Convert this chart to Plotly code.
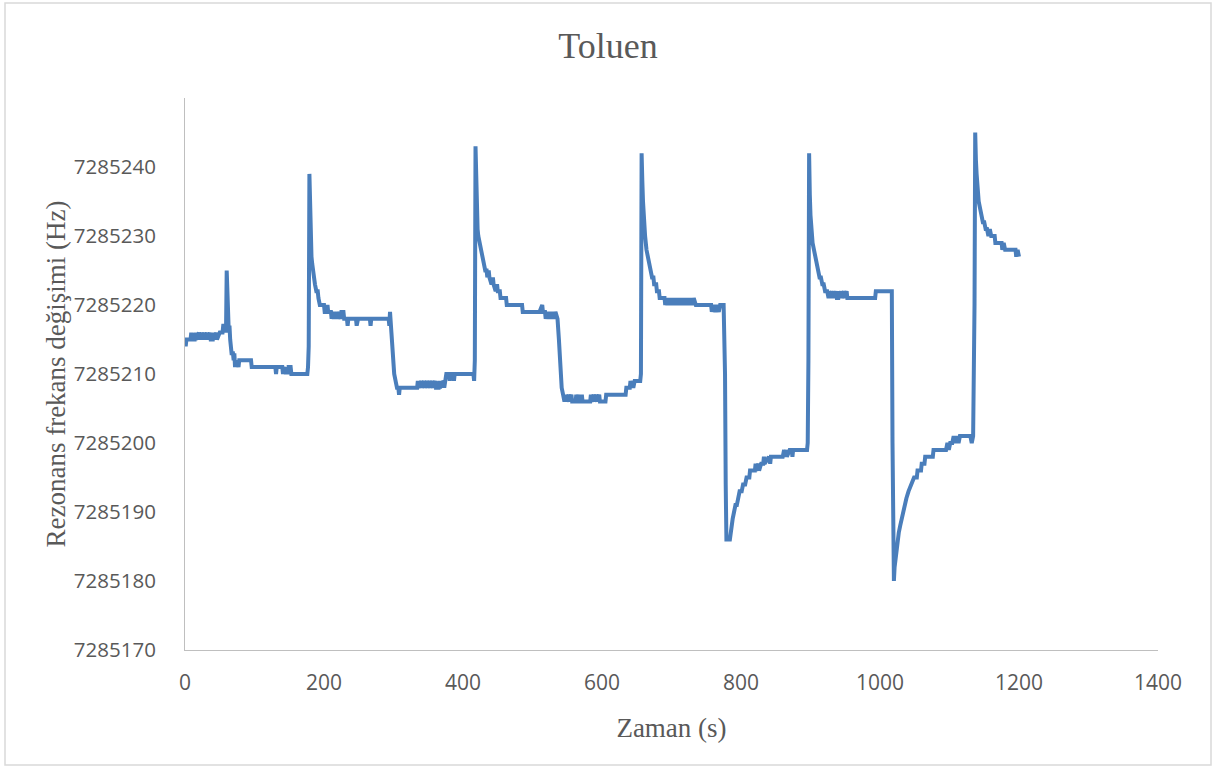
import plotly.graph_objects as go

# Zaman (s)
time_s = [
    0, 1, 2, 8, 9, 10, 14, 15, 16, 20, 21, 24, 25, 28, 29, 32, 33, 36, 37, 40, 41, 42, 45, 46, 50, 54, 55, 58, 59,
    60, 61, 62, 63, 64, 65, 66, 67, 69, 70, 71, 72, 73, 74, 75, 77, 78, 95, 96, 130, 131, 132, 140, 141, 142, 145,
    146, 148, 149, 152, 153, 176, 177, 178, 179, 180, 181, 182, 183, 185, 187, 189, 191, 192, 194, 200, 201, 204,
    205, 206, 210, 211, 212, 214, 215, 217, 218, 220, 221, 224, 225, 228, 229, 233, 234, 235, 246, 247, 249, 266,
    267, 268, 293, 294, 295, 297, 299, 301, 303, 305, 307, 308, 309, 334, 335, 336, 340, 341, 344, 345, 348, 349,
    352, 353, 356, 357, 360, 361, 365, 366, 367, 372, 373, 376, 380, 381, 382, 386, 387, 388, 400, 410, 415, 416,
    417, 418, 419, 420, 421, 422, 424, 426, 428, 430, 432, 434, 435, 437, 438, 441, 443, 444, 447, 449, 450, 453,
    454, 460, 462, 463, 485, 486, 510, 514, 515, 518, 519, 521, 523, 525, 527, 529, 531, 533, 535, 536, 538, 540,
    542, 544, 546, 548, 549, 552, 553, 556, 557, 562, 563, 564, 566, 567, 570, 571, 572, 583, 584, 585, 588, 589,
    592, 593, 596, 597, 605, 606, 634, 635, 640, 641, 642, 644, 645, 647, 655, 656, 657, 658, 659, 660, 662, 664,
    666, 668, 670, 672, 674, 675, 678, 679, 682, 683, 686, 690, 691, 692, 694, 696, 698, 700, 702, 704, 706, 708,
    710, 712, 714, 716, 718, 720, 722, 724, 726, 728, 730, 732, 735, 757, 758, 760, 763, 765, 768, 770, 775, 777,
    778, 779, 784, 786, 788, 790, 792, 794, 796, 798, 801, 803, 806, 808, 812, 813, 820, 821, 822, 825, 826, 829,
    832, 833, 834, 840, 842, 843, 850, 860, 862, 863, 865, 866, 870, 873, 874, 875, 895, 896, 897, 898, 899, 900,
    901, 903, 905, 907, 909, 911, 913, 915, 917, 919, 921, 924, 926, 927, 929, 931, 932, 934, 935, 937, 938, 940,
    941, 942, 944, 945, 948, 949, 952, 953, 958, 960, 990, 993, 994, 1017, 1018, 1019, 1020, 1021, 1023, 1025,
    1027, 1029, 1031, 1033, 1035, 1038, 1041, 1045, 1049, 1053, 1054, 1059, 1060, 1064, 1065, 1071, 1076, 1077,
    1095, 1097, 1099, 1101, 1104, 1106, 1108, 1110, 1113, 1115, 1130, 1132, 1134, 1136, 1137, 1138, 1139, 1140,
    1142, 1144, 1146, 1148, 1150, 1152, 1154, 1156, 1158, 1160, 1165, 1166, 1175, 1176, 1178, 1180, 1190, 1195,
    1196, 1198, 1200,
]

# Rezonans frekansı (Hz)
frequency_hz = [
    7285215, 7285214, 7285215, 7285215, 7285216, 7285215, 7285215, 7285216, 7285215, 7285216, 7285215, 7285216,
    7285215, 7285216, 7285215, 7285216, 7285215, 7285216, 7285215, 7285215, 7285216, 7285215, 7285216, 7285215,
    7285216, 7285216, 7285217, 7285217, 7285216,
    7285225, 7285222, 7285219, 7285216, 7285217, 7285215, 7285214, 7285213, 7285213, 7285212, 7285213, 7285211,
    7285212, 7285211, 7285212, 7285211, 7285212, 7285212, 7285211, 7285211, 7285210, 7285211, 7285211, 7285210,
    7285211, 7285210,
    7285211, 7285210, 7285211, 7285211, 7285210, 7285210, 7285211, 7285214, 7285239, 7285233, 7285229, 7285227,
    7285226, 7285224, 7285223, 7285222, 7285222, 7285221, 7285220, 7285220, 7285219, 7285219,
    7285220, 7285219, 7285219, 7285218, 7285219, 7285218, 7285219, 7285218, 7285219, 7285218, 7285219, 7285218,
    7285219, 7285219, 7285218, 7285218, 7285217, 7285218, 7285218, 7285217, 7285218, 7285218,
    7285217, 7285218, 7285218, 7285217, 7285219, 7285216, 7285212, 7285210, 7285209, 7285208, 7285208, 7285207,
    7285208, 7285208, 7285209, 7285208, 7285209, 7285208, 7285209, 7285208, 7285209, 7285208,
    7285209, 7285208, 7285209, 7285208, 7285209, 7285208, 7285208, 7285209, 7285208, 7285209, 7285208, 7285210,
    7285210, 7285209, 7285210, 7285210, 7285209, 7285210, 7285210, 7285210, 7285210, 7285209,
    7285212, 7285243, 7285237, 7285233, 7285231, 7285230, 7285229, 7285228, 7285227, 7285226, 7285225, 7285225,
    7285224, 7285225, 7285224, 7285223, 7285224, 7285223, 7285222, 7285223, 7285222, 7285222,
    7285221, 7285221, 7285221, 7285220, 7285220, 7285219, 7285219, 7285220, 7285219, 7285219, 7285218, 7285219,
    7285218, 7285219, 7285218, 7285219, 7285218, 7285219, 7285218, 7285218, 7285215, 7285211,
    7285208, 7285207, 7285206, 7285207, 7285206, 7285207, 7285206, 7285207, 7285206, 7285206, 7285207, 7285206,
    7285207, 7285206, 7285206, 7285207, 7285206, 7285206, 7285207, 7285206, 7285207, 7285206,
    7285207, 7285206, 7285207, 7285206, 7285206, 7285207, 7285207, 7285208, 7285208, 7285209, 7285208, 7285209,
    7285208, 7285209, 7285209, 7285210, 7285242, 7285238, 7285235, 7285233, 7285230, 7285228,
    7285227, 7285226, 7285225, 7285224, 7285224, 7285223, 7285223, 7285222, 7285222, 7285221, 7285221, 7285221,
    7285220, 7285221, 7285220, 7285221, 7285220, 7285221, 7285220, 7285221, 7285220, 7285221,
    7285220, 7285221, 7285220, 7285221, 7285220, 7285221, 7285220, 7285221, 7285220, 7285221, 7285220, 7285221,
    7285220, 7285220, 7285219, 7285220, 7285219, 7285220, 7285219, 7285220, 7285220, 7285210,
    7285194, 7285186, 7285186, 7285188, 7285189, 7285190, 7285191, 7285191, 7285192, 7285193, 7285193, 7285194,
    7285194, 7285195, 7285195, 7285196, 7285196, 7285197, 7285196, 7285197, 7285196, 7285197,
    7285197, 7285198, 7285197, 7285198, 7285197, 7285198, 7285198, 7285198, 7285199, 7285198, 7285199, 7285198,
    7285199, 7285199, 7285198, 7285199, 7285199, 7285200, 7285212, 7285242, 7285236, 7285233,
    7285231, 7285229, 7285228, 7285227, 7285226, 7285225, 7285224, 7285224, 7285223, 7285223, 7285222, 7285222,
    7285221, 7285222, 7285221, 7285222, 7285221, 7285222, 7285221, 7285222, 7285221, 7285221,
    7285222, 7285221, 7285222, 7285221, 7285222, 7285221, 7285222, 7285221, 7285221, 7285221, 7285221, 7285221,
    7285222, 7285222, 7285200, 7285182, 7285180, 7285182, 7285184, 7285186,
    7285187, 7285188, 7285189, 7285190, 7285191, 7285192, 7285193, 7285194, 7285195, 7285195, 7285196, 7285196,
    7285197, 7285197, 7285198, 7285198, 7285198, 7285199,
    7285199, 7285200, 7285199, 7285200, 7285200, 7285201, 7285200, 7285201, 7285200, 7285201, 7285201, 7285200,
    7285201, 7285220, 7285245, 7285241, 7285239, 7285237,
    7285235, 7285234, 7285233, 7285232, 7285232, 7285231, 7285231, 7285230, 7285231, 7285230, 7285230, 7285229,
    7285229, 7285228, 7285229, 7285228, 7285228, 7285228,
    7285227, 7285228, 7285227,
]

x_ticks = [0, 200, 400, 600, 800, 1000, 1200, 1400]
y_ticks = [7285170, 7285180, 7285190, 7285200, 7285210, 7285220, 7285230, 7285240]

GRAY_TEXT = "#595959"
AXIS_LINE = "#BFBFBF"

fig = go.Figure()
fig.add_trace(go.Scatter(
    x=time_s, y=frequency_hz, mode="lines",
    line=dict(color="#4A7EBB", width=4),
    showlegend=False,
))

fig.update_layout(
    width=1232, height=767,
    margin=dict(l=185, r=74, t=98, b=117),
    paper_bgcolor="white", plot_bgcolor="white",
    title=dict(
        text="Toluen", x=608 / 1232, xref="container", xanchor="center",
        y=1 - 45 / 767, yref="container", yanchor="middle",
        font=dict(family="Liberation Serif", size=36, color=GRAY_TEXT),
    ),
    xaxis=dict(
        range=[0, 1400], tickvals=x_ticks, ticktext=[str(v) for v in x_ticks],
        showgrid=False, zeroline=False, showline=True, linecolor=AXIS_LINE, linewidth=1,
        ticks="", ticklabelstandoff=14,
        tickfont=dict(family="Open Sans", size=21, color=GRAY_TEXT),
        title=dict(text="Zaman (s)", standoff=22,
                   font=dict(family="Liberation Serif", size=27, color=GRAY_TEXT)),
    ),
    yaxis=dict(
        range=[7285170, 7285250], tickvals=y_ticks, ticktext=[str(v) for v in y_ticks],
        showgrid=False, zeroline=False, showline=True, linecolor=AXIS_LINE, linewidth=1,
        ticks="", ticklabelstandoff=24,
        tickfont=dict(family="Open Sans", size=20.5, color=GRAY_TEXT),
        title=dict(text="Rezonans frekans değişimi (Hz)", standoff=0,
                   font=dict(family="Liberation Serif", size=27, color=GRAY_TEXT)),
    ),
    shapes=[dict(
        type="rect", xref="paper", yref="paper",
        x0=(5 - 185) / 973, x1=(1211 - 185) / 973,
        y0=(650 - 765) / 552, y1=(650 - 3) / 552,
        line=dict(color="#D9D9D9", width=1.5), fillcolor="rgba(0,0,0,0)", layer="below",
    )],
)

fig.write_html("out.html")
